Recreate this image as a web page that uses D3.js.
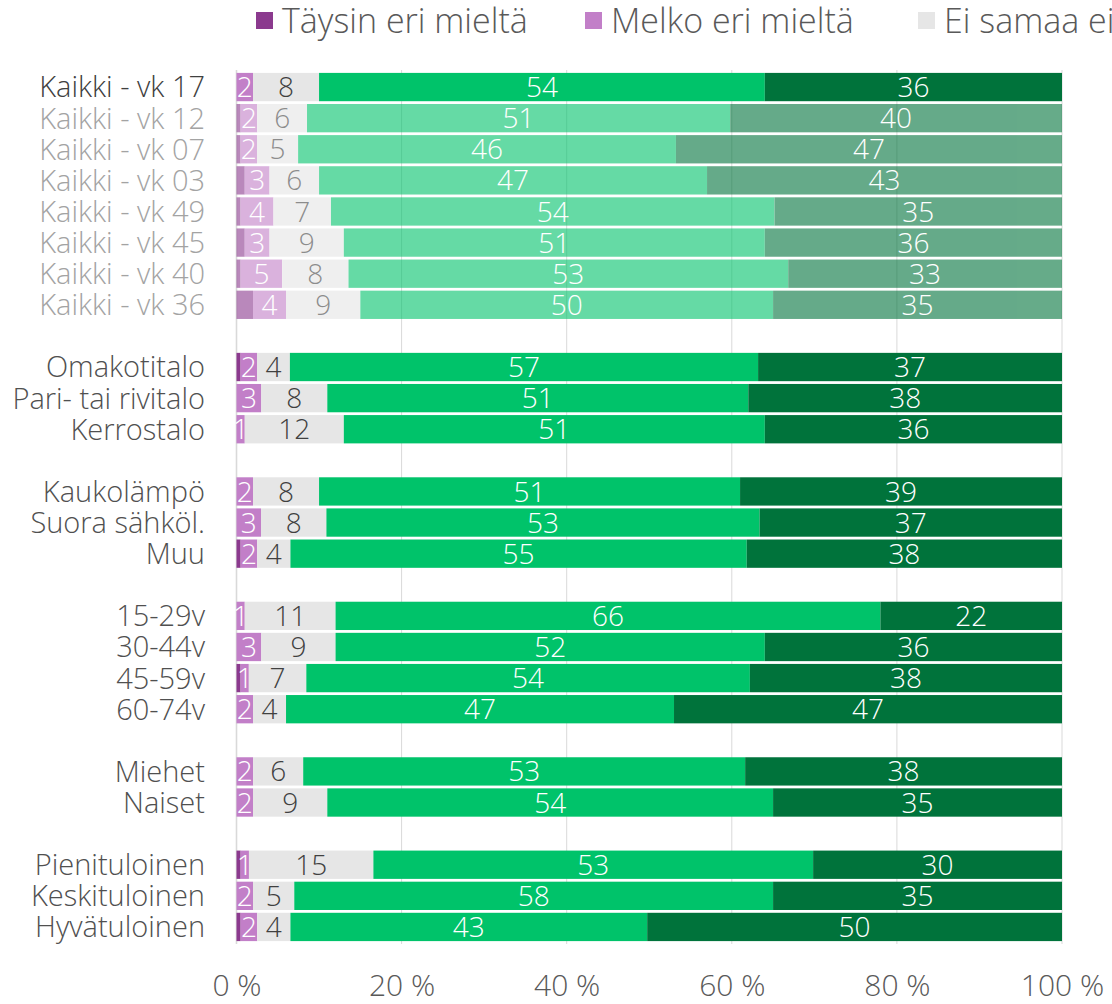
<!DOCTYPE html>
<html>
<head>
<meta charset="utf-8">
<script src="https://cdn.jsdelivr.net/npm/d3@7"></script>
<style>
  html, body { margin: 0; padding: 0; background: #fff; }
  svg { display: block; font-family: "Open Sans", "Noto Sans", sans-serif; }
</style>
</head>
<body>
<svg id="chart" width="1112" height="1004"></svg>
<script>
// Response categories (stack order, left to right)
const seriesNames = ["Täysin eri mieltä", "Melko eri mieltä", "Ei samaa eikä eri mieltä", "Melko samaa mieltä", "Täysin samaa mieltä"];
const seriesColors = ["#8B3A8E", "#C27FC8", "#E6E6E6", "#00C36A", "#00733B"];

// Row labels, top to bottom
const categories = [
  "Kaikki - vk 17", "Kaikki - vk 12", "Kaikki - vk 07", "Kaikki - vk 03",
  "Kaikki - vk 49", "Kaikki - vk 45", "Kaikki - vk 40", "Kaikki - vk 36",
  "Omakotitalo", "Pari- tai rivitalo", "Kerrostalo",
  "Kaukolämpö", "Suora sähköl.", "Muu",
  "15-29v", "30-44v", "45-59v", "60-74v",
  "Miehet", "Naiset",
  "Pienituloinen", "Keskituloinen", "Hyvätuloinen"
];
// Number of rows in each block; an empty slot separates blocks
const groupSizes = [8, 3, 3, 4, 2, 3];
// Earlier survey rounds are drawn faded
const fadedRows = ["Kaikki - vk 12", "Kaikki - vk 07", "Kaikki - vk 03", "Kaikki - vk 49", "Kaikki - vk 45", "Kaikki - vk 40", "Kaikki - vk 36"];

// Percentages per series, in the order of `categories`
const taysinEri   = [0, 0.5, 0.5, 1, 0.5, 1, 0.5, 2,   0.5, 0, 0,   0, 0, 0.5,   0, 0, 0.5, 0,   0, 0,   0.5, 0, 0.5];
const melkoEri    = [2, 2, 2, 3, 4, 3, 5, 4,   2, 3, 1,   2, 3, 2,   1, 3, 1, 2,   2, 2,   1, 2, 2];
const eiSamaa     = [8, 6, 5, 6, 7, 9, 8, 9,   4, 8, 12,   8, 8, 4,   11, 9, 7, 4,   6, 9,   15, 5, 4];
const melkoSamaa  = [54, 51, 46, 47, 54, 51, 53, 50,   57, 51, 51,   51, 53, 55,   66, 52, 54, 47,   53, 54,   53, 58, 43];
const taysinSamaa = [36, 40, 47, 43, 35, 36, 33, 35,   37, 38, 36,   39, 37, 38,   22, 36, 38, 47,   38, 35,   30, 35, 50];

// X axis ticks (shares of the 100 % bar)
const xTicks = [0, 0.2, 0.4, 0.6, 0.8, 1];

const keys = ["te", "me", "es", "ms", "ts"];
const rows = categories.map((c, i) => ({
  label: c, te: taysinEri[i], me: melkoEri[i], es: eiSamaa[i], ms: melkoSamaa[i], ts: taysinSamaa[i]
}));

// Assign each row a slot index, leaving one empty slot between blocks
let slot = 0, r = 0;
groupSizes.forEach((n, g) => {
  for (let k = 0; k < n; k++) rows[r++].slot = slot++;
  if (g < groupSizes.length - 1) slot++;
});
const slotCount = slot;

const svg = d3.select("#chart");
const x = d3.scaleLinear().domain([0, 1]).range([236.5, 1062]);
const y = d3.scaleBand().domain(d3.range(slotCount)).range([71.5, 942.5])
  .paddingInner(0.09).paddingOuter(0.045);

// Gridlines
const gridTop = 70, gridBottom = 944;
svg.append("g").selectAll("line").data(xTicks).join("line")
  .attr("x1", d => x(d)).attr("x2", d => x(d))
  .attr("y1", gridTop).attr("y2", gridBottom)
  .attr("stroke", "#D9D9D9")
  .attr("stroke-width", d => d === 0 ? 1.6 : 1);

// Stack to 100 %
const stacked = d3.stack().keys(keys).offset(d3.stackOffsetExpand)(rows);

const rowG = svg.append("g").selectAll("g.row").data(rows).join("g")
  .attr("class", "row")
  .attr("opacity", d => fadedRows.includes(d.label) ? 0.6 : 1);

rowG.each(function(row, ri) {
  const g = d3.select(this);
  const segs = stacked.map((s, si) => ({ si, x0: s[ri][0], x1: s[ri][1], v: row[keys[si]] }));
  g.selectAll("rect").data(segs).join("rect")
    .attr("x", d => x(d.x0))
    .attr("y", y(row.slot))
    .attr("width", d => Math.max(0, x(d.x1) - x(d.x0)))
    .attr("height", y.bandwidth())
    .attr("fill", d => seriesColors[d.si]);
  g.selectAll("text").data(segs.filter(d => d.si > 0 && d.v >= 1)).join("text")
    .attr("x", d => (x(d.x0) + x(d.x1)) / 2)
    .attr("y", y(row.slot) + y.bandwidth() / 2)
    .attr("dy", "0.36em")
    .attr("text-anchor", "middle")
    .attr("font-size", 28)
    .attr("font-weight", 300)
    .attr("fill", d => d.si === 2 ? "#404040" : "#FFFFFF")
    .text(d => d.v);
});

// Category labels
svg.append("g").selectAll("text").data(rows).join("text")
  .attr("x", 205)
  .attr("y", d => y(d.slot) + y.bandwidth() / 2)
  .attr("dy", "0.36em")
  .attr("text-anchor", "end")
  .attr("font-size", 29)
  .attr("font-weight", 300)
  .attr("fill", (d, i) => fadedRows.includes(d.label) ? "#A3A3A3" : (i === 0 ? "#404040" : "#505050"))
  .text(d => d.label);

// X axis labels
const xAxis = d3.axisBottom(x).tickValues(xTicks)
  .tickFormat(d => Math.round(d * 100) + " %")
  .tickSize(0).tickPadding(31);
const axG = svg.append("g").attr("transform", `translate(0,${gridBottom})`).call(xAxis);
axG.select(".domain").remove();
axG.selectAll("text")
  .attr("font-family", "'Open Sans', sans-serif")
  .attr("font-size", 30)
  .attr("font-weight", 300)
  .attr("fill", "#595959");

// Legend along the top edge
const legendX = [256, 585, 918, 1300, 1640];
const leg = svg.append("g").selectAll("g").data(seriesNames).join("g")
  .attr("transform", (d, i) => `translate(${legendX[i]},0)`);
leg.append("rect").attr("x", 0).attr("y", 12).attr("width", 17).attr("height", 17)
  .attr("fill", (d, i) => seriesColors[i]);
leg.append("text").attr("x", 26).attr("y", 21).attr("dy", "0.36em")
  .attr("font-size", 34).attr("font-weight", 300).attr("fill", "#595959")
  .text(d => d);
</script>
</body>
</html>
